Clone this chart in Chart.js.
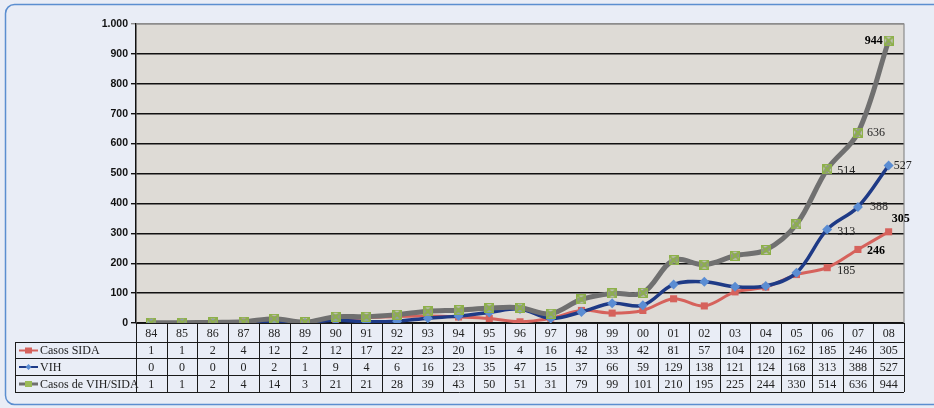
<!DOCTYPE html>
<html>
<head>
<meta charset="utf-8">
<script src="https://cdn.jsdelivr.net/npm/chart.js@4.4.0/dist/chart.umd.min.js"></script>
<style>
  html, body { margin: 0; padding: 0; background: #E9EDF6; }
  #wrap { position: relative; width: 934px; height: 408px; }
</style>
</head>
<body>
<div id="wrap"><canvas id="chart"></canvas></div>
<script>
// years shown on the x axis / table header
const years = ['84','85','86','87','88','89','90','91','92','93','94','95','96','97','98','99','00','01','02','03','04','05','06','07','08'];

const casosSida = [1, 1, 2, 4, 12, 2, 12, 17, 22, 23, 20, 15, 4, 16, 42, 33, 42, 81, 57, 104, 120, 162, 185, 246, 305];
const vih = [0, 0, 0, 0, 2, 1, 9, 4, 6, 16, 23, 35, 47, 15, 37, 66, 59, 129, 138, 121, 124, 168, 313, 388, 527];
const casosVihSida = [1, 1, 2, 4, 14, 3, 21, 21, 28, 39, 43, 50, 51, 31, 79, 99, 101, 210, 195, 225, 244, 330, 514, 636, 944];

const seriesNames = ['Casos SIDA', 'VIH', 'Casos de VIH/SIDA'];
const yTicks = [0, 100, 200, 300, 400, 500, 600, 700, 800, 900, 1000];

// which points get a value label (last three years)
const labelIdx = [22, 23, 24];

const RED = '#D6625C';
const NAVY = '#1E3A86';
const BLUE_MK = '#5B8DD3';
const GRAY = '#707070';
const GREEN = '#8DB04A';

// marker for the total series: square with an X, like Excel's
function makeXSquare(size) {
    const c = document.createElement('canvas');
    c.width = size; c.height = size;
    const g = c.getContext('2d');
    g.fillStyle = 'rgba(170,175,160,0.6)';
    g.fillRect(1, 1, size - 2, size - 2);
    g.strokeStyle = GREEN;
    g.lineWidth = 1;
    g.strokeRect(0.5, 0.5, size - 1, size - 1);
    g.lineWidth = 1.8;
    g.beginPath();
    g.moveTo(1, 1); g.lineTo(size - 1, size - 1);
    g.moveTo(size - 1, 1); g.lineTo(1, size - 1);
    g.stroke();
    return c;
}
const xSquare = makeXSquare(10);

// label placement per series/point: dx, dy, align, bold
const labelStyle = {
    0: { 22: [10, 3, 'left', false], 23: [9, 1, 'left', true], 24: [12, -13, 'center', true] },
    1: { 22: [10, 2, 'left', false], 23: [12, 0, 'left', false], 24: [5, 0, 'left', false] },
    2: { 22: [10, 2, 'left', false], 23: [9, 0, 'left', false], 24: [-6, 0, 'right', true] }
};

const decorPlugin = {
    id: 'decor',
    beforeDraw(chart) {
        const { ctx, chartArea: a } = chart;
        ctx.save();
        // outer rounded frame (only top/left visible)
        ctx.strokeStyle = '#5B8ED0';
        ctx.lineWidth = 1.5;
        ctx.beginPath();
        ctx.roundRect(5.5, 4.5, 1000, 400, 9);
        ctx.stroke();
        ctx.fillStyle = '#DEDBD6';
        ctx.fillRect(a.left, a.top, a.right - a.left, a.bottom - a.top);
        ctx.restore();
    },
    afterDatasetsDraw(chart) {
        const { ctx, chartArea: a } = chart;
        const xs = chart.scales.x;
        ctx.save();
        // plot frame right/top
        ctx.strokeStyle = '#8C8C8C';
        ctx.lineWidth = 1.2;
        ctx.beginPath();
        ctx.moveTo(a.left, a.top); ctx.lineTo(a.right, a.top); ctx.lineTo(a.right, a.bottom);
        ctx.stroke();

        // value labels
        chart.data.datasets.forEach((ds, di) => {
            const meta = chart.getDatasetMeta(di);
            labelIdx.forEach(i => {
                const st = labelStyle[di][i];
                const p = meta.data[i];
                ctx.font = (st[3] ? 'bold ' : '') + '12px "Liberation Serif", serif';
                ctx.fillStyle = st[3] ? '#000' : '#222';
                ctx.textAlign = st[2];
                ctx.textBaseline = 'middle';
                ctx.fillText(String(ds.data[i]), p.x + st[0], p.y + st[1]);
            });
        });

        // data table
        const colW = (a.right - a.left) / years.length;
        const rowTops = [a.bottom, 342, 358, 375, 392];
        const tableLeft = 15;
        ctx.strokeStyle = '#1A1A1A';
        ctx.lineWidth = 1;
        ctx.beginPath();
        // horizontal lines
        ctx.moveTo(a.left, rowTops[0] + 0.5); ctx.lineTo(a.right, rowTops[0] + 0.5);
        for (let r = 1; r < rowTops.length; r++) {
            ctx.moveTo(tableLeft, rowTops[r] + 0.5); ctx.lineTo(a.right, rowTops[r] + 0.5);
        }
        // vertical lines
        for (let c = 0; c <= years.length; c++) {
            const x = Math.round(a.left + c * colW) + 0.5;
            ctx.moveTo(x, rowTops[0]); ctx.lineTo(x, rowTops[4]);
        }
        ctx.moveTo(tableLeft + 0.5, rowTops[1]); ctx.lineTo(tableLeft + 0.5, rowTops[4]);
        ctx.stroke();

        ctx.fillStyle = '#222';
        ctx.font = '12px "Liberation Serif", serif';
        ctx.textAlign = 'center';
        ctx.textBaseline = 'middle';
        const rows = [years, casosSida, vih, casosVihSida];
        rows.forEach((vals, r) => {
            const cy = (rowTops[r] + rowTops[r + 1]) / 2 + 1;
            vals.forEach((v, i) => {
                ctx.fillText(String(v), xs.getPixelForValue(i), cy);
            });
        });

        // legend keys in first column
        const keyColors = [RED, NAVY, GRAY];
        seriesNames.forEach((name, r) => {
            const cy = (rowTops[r + 1] + rowTops[r + 2]) / 2 + 0.5;
            ctx.strokeStyle = keyColors[r];
            ctx.lineWidth = r === 2 ? 3 : 2;
            ctx.beginPath();
            ctx.moveTo(19, cy); ctx.lineTo(38, cy);
            ctx.stroke();
            if (r === 0) {
                ctx.fillStyle = RED;
                ctx.fillRect(25, cy - 3, 7, 6);
            } else if (r === 1) {
                ctx.fillStyle = BLUE_MK;
                ctx.beginPath();
                ctx.moveTo(28.5, cy - 3); ctx.lineTo(31.5, cy); ctx.lineTo(28.5, cy + 3); ctx.lineTo(25.5, cy);
                ctx.closePath(); ctx.fill();
            } else {
                ctx.fillStyle = '#9BBB59';
                ctx.fillRect(25, cy - 3, 7, 6);
            }
            ctx.fillStyle = '#222';
            ctx.font = '12px "Liberation Serif", serif';
            ctx.textAlign = 'left';
            ctx.fillText(name, 40, cy + 0.5);
        });
        ctx.restore();
    }
};

new Chart(document.getElementById('chart'), {
    type: 'line',
    data: {
        labels: years,
        datasets: [
            {
                label: seriesNames[0], data: casosSida, order: 2,
                borderColor: RED, backgroundColor: RED, borderWidth: 3,
                pointStyle: 'rect', pointRadius: 5, pointBorderWidth: 0,
                tension: 0.35
            },
            {
                label: seriesNames[1], data: vih, order: 1,
                borderColor: NAVY, backgroundColor: BLUE_MK, borderWidth: 3.5,
                pointStyle: 'rectRot', pointRadius: 5, pointBorderWidth: 0,
                tension: 0.35
            },
            {
                label: seriesNames[2], data: casosVihSida, order: 0,
                borderColor: GRAY, backgroundColor: GREEN, borderWidth: 5,
                pointStyle: xSquare, pointRadius: 5,
                tension: 0.35
            }
        ]
    },
    options: {
        responsive: true, maintainAspectRatio: false, animation: false,
        layout: { padding: { left: 0, top: 24, right: 30, bottom: 85 } },
        plugins: { legend: { display: false }, tooltip: { enabled: false }, title: { display: false } },
        scales: {
            x: { display: false, offset: true },
            y: {
                min: 0, max: 1000,
                afterFit(scale) { scale.width = 136; },
                afterBuildTicks(scale) { scale.ticks = yTicks.map(v => ({ value: v })); },
                ticks: {
                    padding: 3,
                    color: '#111',
                    font: { family: '"Liberation Sans", Arial, sans-serif', size: 10.5, weight: 'bold' },
                    callback: v => v.toLocaleString('de-DE')
                },
                grid: {
                    color: ctx => ctx.tick && ctx.tick.value === 1000 ? '#8C8C8C' : '#111',
                    lineWidth: 1.4,
                    tickLength: 5,
                    drawTicks: true
                },
                border: { display: true, color: '#111', width: 1.5 }
            }
        }
    },
    plugins: [decorPlugin]
});
</script>
</body>
</html>
